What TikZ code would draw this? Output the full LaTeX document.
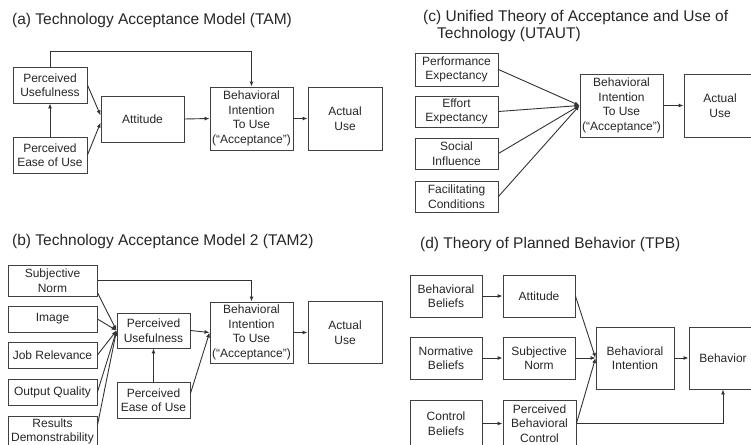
\documentclass[tikz,border=0pt]{standalone}
\usepackage{fontspec}
\setmainfont{Liberation Sans}
\usetikzlibrary{arrows.meta}

\tikzset{
  box/.style={draw=black!75, line width=0.9pt, inner sep=0pt, align=center,
    text=black!85, font=\fontsize{12}{14.5}\selectfont},
  arr/.style={draw=black!80, line width=0.9pt, -{Latex[length=5pt,width=4pt]}},
  ttl/.style={anchor=base west, inner sep=0pt, text=black!85,
    font=\fontsize{15.5}{16.5}\selectfont}
}

\begin{document}
\begin{tikzpicture}[x=1pt,y=-1pt]
    % Picture frame, boxes at the right and bottom run past it
    \clip (0,0) rectangle (751,444);

    % (a) TAM
    \node[ttl] (ttlA) at (12,25) {(a) Technology Acceptance Model (TAM)};
    \node[box, minimum width=74pt, minimum height=36pt] (puA) at (50,85) {Perceived\\Usefulness};
    \node[box, minimum width=74pt, minimum height=36pt] (peA) at (50,155) {Perceived\\Ease of Use};
    \node[box, minimum width=83pt, minimum height=46pt] (atA) at (142.5,119) {Attitude};
    \node[box, minimum width=83pt, minimum height=63pt] (biA) at (251.5,118.5) {Behavioral\\Intention\\To Use\\(“Acceptance”)};
    \node[box, minimum width=74pt, minimum height=63pt] (auA) at (345,118.5) {Actual\\Use};
    \draw[arr] (puA.east) -- (atA.175);
    \draw[arr] (peA.east) -- (atA.185);
    \draw[arr] (peA.north) -- (puA.south);
    \draw[arr] (puA.north) -- ++(0,-15) -| (biA.north);
    \draw[arr] (atA.east) -- (biA.west);
    \draw[arr] (biA.east) -- (auA.west);

    % (b) TAM2
    \node[ttl] (ttlB) at (12,245) {(b) Technology Acceptance Model 2 (TAM2)};
    \node[box, minimum width=89pt, minimum height=31pt] (snB) at (52.5,280.5) {Subjective\\Norm};
    \node[box, minimum width=89pt, minimum height=26pt] (imB) at (52.5,319) {Image};
    \node[box, minimum width=89pt, minimum height=26pt] (jrB) at (52.5,355) {Job Relevance};
    \node[box, minimum width=89pt, minimum height=26pt] (oqB) at (52.5,392) {Output Quality};
    \node[box, minimum width=89pt, minimum height=31pt] (rdB) at (52.5,431.5) {Results\\Demonstrability};
    \node[box, minimum width=73pt, minimum height=35pt] (puB) at (153.5,330.5) {Perceived\\Usefulness};
    \node[box, minimum width=73pt, minimum height=36pt] (peB) at (153.5,400) {Perceived\\Ease of Use};
    \node[box, minimum width=83pt, minimum height=61pt] (biB) at (251.5,332.5) {Behavioral\\Intention\\To Use\\(“Acceptance”)};
    \node[box, minimum width=74pt, minimum height=62pt] (auB) at (345,332.5) {Actual\\Use};
    \draw[arr] (snB.-15) -- (puB.west);
    \draw[arr] (imB.east) -- (puB.west);
    \draw[arr] (jrB.east) -- (puB.west);
    \draw[arr] (oqB.east) -- (puB.west);
    \draw[arr] (rdB.8) -- (puB.west);
    \draw[arr] (snB.east) -| (biB.north);
    \draw[arr] (puB.east) -- (biB.west);
    \draw[arr] (peB.north) -- (puB.south);
    \draw[arr] (peB.10) -- (biB.west);
    \draw[arr] (biB.east) -- (auB.west);

    % (c) UTAUT
    \node[ttl] (ttlC) at (423,22) {(c) Unified Theory of Acceptance and Use of};
    \node[ttl] (ttlCb) at (437,38) {Technology (UTAUT)};
    \node[box, minimum width=83pt, minimum height=33pt] (peC) at (456.5,69.5) {Performance\\Expectancy};
    \node[box, minimum width=83pt, minimum height=31pt] (eeC) at (456.5,111.5) {Effort\\Expectancy};
    \node[box, minimum width=83pt, minimum height=31pt] (siC) at (456.5,153.5) {Social\\Influence};
    \node[box, minimum width=83pt, minimum height=31pt] (fcC) at (456.5,196.5) {Facilitating\\Conditions};
    \node[box, minimum width=83pt, minimum height=63pt] (biC) at (621.5,105.5) {Behavioral\\Intention\\To Use\\(“Acceptance”)};
    \node[box, minimum width=72pt, minimum height=63pt] (auC) at (720,105.5) {Actual\\Use};
    \draw[arr] (peC.east) -- (biC.west);
    \draw[arr] (eeC.east) -- (biC.west);
    \draw[arr] (siC.east) -- (biC.west);
    \draw[arr] (fcC.east) -- (biC.west);
    \draw[arr] (biC.east) -- (auC.west);

    % (d) TPB
    \node[ttl] (ttlD) at (420,248) {(d) Theory of Planned Behavior (TPB)};
    \node[box, minimum width=72pt, minimum height=42pt] (bbD) at (446,296) {Behavioral\\Beliefs};
    \node[box, minimum width=72pt, minimum height=42pt] (atD) at (539,296) {Attitude};
    \node[box, minimum width=72pt, minimum height=42pt] (nbD) at (446,358) {Normative\\Beliefs};
    \node[box, minimum width=72pt, minimum height=42pt] (snD) at (539,358) {Subjective\\Norm};
    \node[box, minimum width=72pt, minimum height=47pt] (cbD) at (446,423.5) {Control\\Beliefs};
    \node[box, minimum width=73pt, minimum height=47pt] (pbD) at (539.5,423.5) {Perceived\\Behavioral\\Control};
    \node[box, minimum width=78pt, minimum height=62pt] (biD) at (635,358) {Behavioral\\Intention};
    \node[box, minimum width=68pt, minimum height=62pt] (bhD) at (723,358) {Behavior};
    \draw[arr] (bbD.east) -- (atD.west);
    \draw[arr] (nbD.east) -- (snD.west);
    \draw[arr] (cbD.east) -- (pbD.west);
    \draw[arr] (atD.east) -- (biD.west);
    \draw[arr] (snD.east) -- (biD.west);
    \draw[arr] (pbD.east) -- (biD.west);
    \draw[arr] (pbD.east) -| (bhD.south);
    \draw[arr] (biD.east) -- (bhD.west);
\end{tikzpicture}
\end{document}
